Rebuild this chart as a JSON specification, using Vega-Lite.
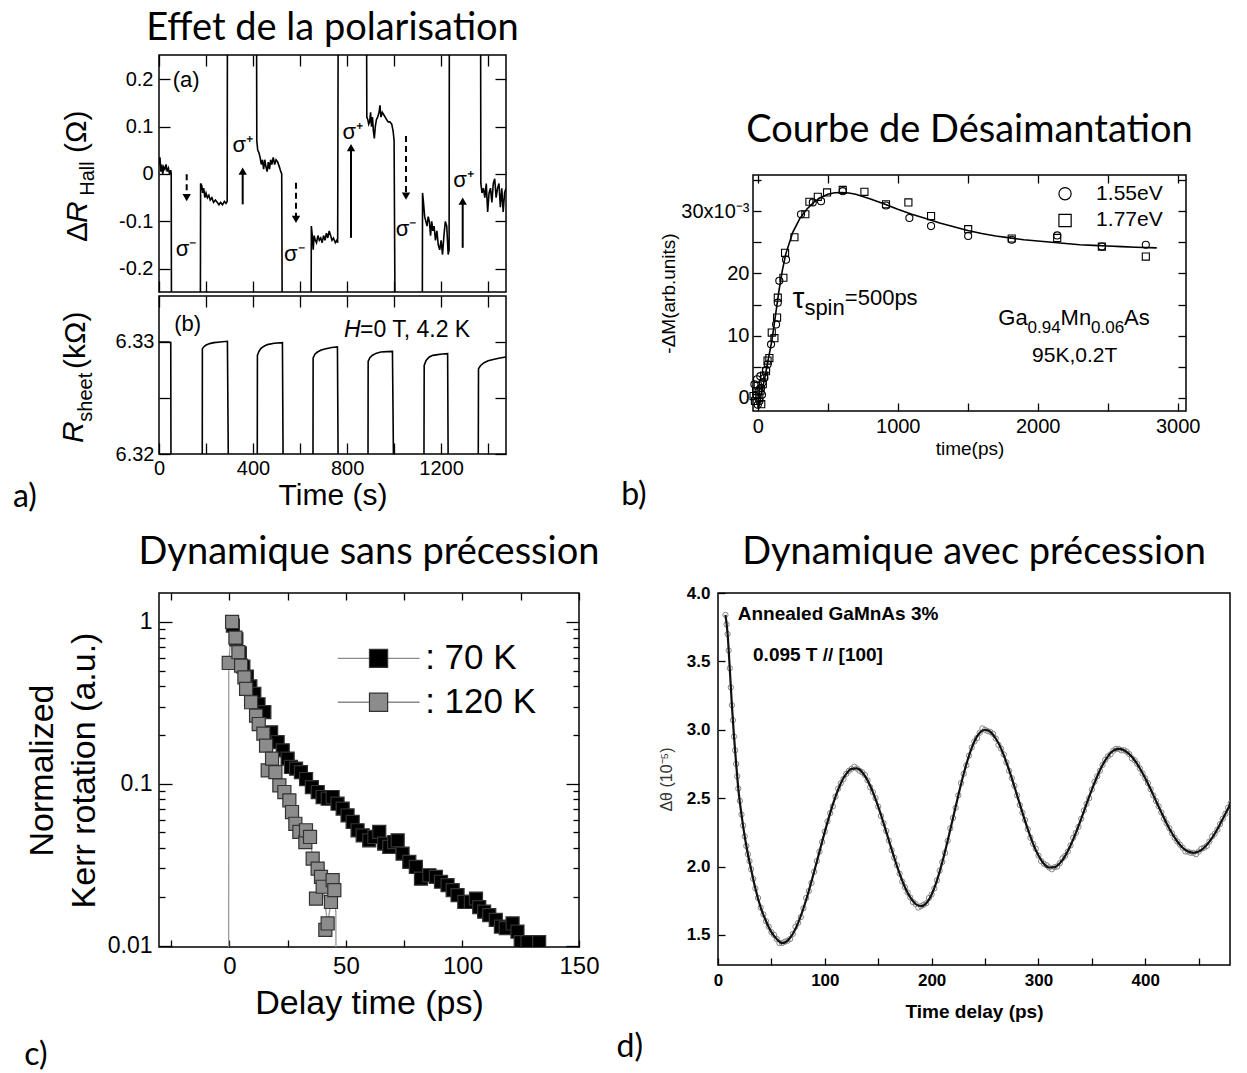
{
"$schema": "https://vega.github.io/schema/vega-lite/v6.json",
"background": "white",
"padding": {"left": 12, "top": 9, "right": 0, "bottom": 0},
"config": {
  "view": {"stroke": "black", "strokeWidth": 1.5},
  "axis": {"domain": false, "grid": false, "tickColor": "black", "tickWidth": 1.3, "labelColor": "black", "titleColor": "black", "labelFont": "Liberation Sans", "titleFont": "Liberation Sans", "titleFontWeight": "normal", "labelFlush": false, "labelOverlap": false},
  "title": {"font": "Lato", "fontSize": 38, "fontWeight": "normal", "color": "black", "frame": "group", "anchor": "middle"},
  "text": {"color": "black"}
},
"datasets": {
  "aHall": [{"t":0,"v":0.02},{"t":4,"v":0.035},{"t":8,"v":0.005},{"t":12,"v":0.02},{"t":16,"v":0.0},{"t":20,"v":0.015},{"t":25,"v":0.01},{"t":30,"v":0.02},{"t":35,"v":0.005},{"t":40,"v":0.012},{"t":45,"v":0.0},{"t":50,"v":0.008},{"t":52,"v":0.0},{"t":53,"v":-0.3},
    {"t":176,"v":-0.3},{"t":177,"v":-0.02},{"t":182,"v":-0.025},{"t":186,"v":-0.04},{"t":190,"v":-0.03},{"t":195,"v":-0.05},{"t":200,"v":-0.04},{"t":206,"v":-0.05},{"t":212,"v":-0.045},{"t":218,"v":-0.055},{"t":225,"v":-0.05},{"t":232,"v":-0.06},{"t":240,"v":-0.055},{"t":248,"v":-0.06},{"t":255,"v":-0.065},{"t":262,"v":-0.06},{"t":270,"v":-0.065},{"t":278,"v":-0.058},{"t":285,"v":-0.062},{"t":290,"v":-0.058},{"t":291,"v":0.3},
    {"t":415,"v":0.3},{"t":416,"v":0.07},{"t":420,"v":0.05},{"t":425,"v":0.045},{"t":430,"v":0.035},{"t":435,"v":0.02},{"t":440,"v":0.03},{"t":445,"v":0.01},{"t":450,"v":0.03},{"t":455,"v":0.015},{"t":460,"v":0.005},{"t":465,"v":0.025},{"t":470,"v":0.01},{"t":475,"v":0.03},{"t":480,"v":0.02},{"t":486,"v":0.035},{"t":492,"v":0.02},{"t":498,"v":0.03},{"t":505,"v":0.025},{"t":512,"v":0.015},{"t":518,"v":0.005},{"t":522,"v":0.0},{"t":524,"v":-0.3},
    {"t":647,"v":-0.3},{"t":648,"v":-0.11},{"t":652,"v":-0.13},{"t":656,"v":-0.16},{"t":660,"v":-0.13},{"t":665,"v":-0.14},{"t":670,"v":-0.145},{"t":676,"v":-0.13},{"t":682,"v":-0.14},{"t":688,"v":-0.135},{"t":694,"v":-0.145},{"t":700,"v":-0.13},{"t":706,"v":-0.14},{"t":712,"v":-0.125},{"t":718,"v":-0.135},{"t":724,"v":-0.12},{"t":730,"v":-0.13},{"t":736,"v":-0.14},{"t":742,"v":-0.135},{"t":750,"v":-0.145},{"t":756,"v":-0.14},{"t":760,"v":-0.145},{"t":762,"v":0.3},
    {"t":883,"v":0.3},{"t":884,"v":0.12},{"t":888,"v":0.115},{"t":892,"v":0.105},{"t":896,"v":0.11},{"t":900,"v":0.13},{"t":904,"v":0.1},{"t":908,"v":0.12},{"t":912,"v":0.09},{"t":916,"v":0.075},{"t":920,"v":0.1},{"t":925,"v":0.115},{"t":930,"v":0.12},{"t":936,"v":0.13},{"t":940,"v":0.145},{"t":944,"v":0.12},{"t":950,"v":0.13},{"t":956,"v":0.125},{"t":962,"v":0.12},{"t":968,"v":0.115},{"t":975,"v":0.11},{"t":982,"v":0.11},{"t":990,"v":0.105},{"t":996,"v":0.09},{"t":1000,"v":0.07},{"t":1004,"v":-0.3},
    {"t":1120,"v":-0.3},{"t":1121,"v":-0.04},{"t":1125,"v":-0.06},{"t":1130,"v":-0.09},{"t":1135,"v":-0.1},{"t":1140,"v":-0.11},{"t":1145,"v":-0.09},{"t":1150,"v":-0.1},{"t":1155,"v":-0.13},{"t":1160,"v":-0.1},{"t":1165,"v":-0.12},{"t":1170,"v":-0.11},{"t":1176,"v":-0.14},{"t":1182,"v":-0.12},{"t":1188,"v":-0.15},{"t":1194,"v":-0.16},{"t":1200,"v":-0.14},{"t":1206,"v":-0.17},{"t":1212,"v":-0.13},{"t":1218,"v":-0.1},{"t":1224,"v":-0.11},{"t":1230,"v":-0.17},{"t":1234,"v":-0.16},{"t":1235,"v":0.3},
    {"t":1368,"v":0.3},{"t":1369,"v":-0.02},{"t":1374,"v":-0.04},{"t":1380,"v":-0.03},{"t":1386,"v":-0.05},{"t":1392,"v":-0.02},{"t":1398,"v":-0.08},{"t":1404,"v":-0.04},{"t":1410,"v":-0.03},{"t":1416,"v":-0.06},{"t":1422,"v":-0.02},{"t":1428,"v":-0.01},{"t":1434,"v":-0.05},{"t":1440,"v":-0.03},{"t":1446,"v":-0.02},{"t":1452,"v":-0.07},{"t":1458,"v":-0.03},{"t":1464,"v":-0.08},{"t":1470,"v":-0.04},{"t":1476,"v":-0.03}],
  "aSheet": [{"t":0,"v":6.33},{"t":20,"v":6.33},{"t":40,"v":6.32998},{"t":50,"v":6.32995},{"t":51,"v":6.319},
    {"t":184,"v":6.319},{"t":184.5,"v":6.3294},{"t":190,"v":6.32955},{"t":198.7,"v":6.3297},{"t":215,"v":6.32985},{"t":234,"v":6.32994},{"t":260,"v":6.33},{"t":291,"v":6.33006},{"t":295,"v":6.319},
    {"t":418,"v":6.319},{"t":418.6,"v":6.32881},{"t":425,"v":6.32915},{"t":432.8,"v":6.3294},{"t":445,"v":6.3296},{"t":461,"v":6.32976},{"t":490,"v":6.32988},{"t":525,"v":6.32994},{"t":528,"v":6.319},
    {"t":655,"v":6.319},{"t":655.6,"v":6.32857},{"t":663,"v":6.3289},{"t":674,"v":6.3291},{"t":690,"v":6.32928},{"t":709.6,"v":6.3294},{"t":735,"v":6.3295},{"t":759,"v":6.32955},{"t":762,"v":6.319},
    {"t":889,"v":6.319},{"t":889.7,"v":6.32827},{"t":897,"v":6.3286},{"t":908,"v":6.32881},{"t":925,"v":6.329},{"t":944,"v":6.3291},{"t":970,"v":6.32914},{"t":993,"v":6.32916},{"t":997.6,"v":6.319},
    {"t":1127,"v":6.319},{"t":1128,"v":6.32791},{"t":1136,"v":6.32835},{"t":1149.5,"v":6.32866},{"t":1165,"v":6.3288},{"t":1185,"v":6.32887},{"t":1205,"v":6.32892},{"t":1227.7,"v":6.32896},{"t":1230,"v":6.319},
    {"t":1358,"v":6.319},{"t":1359,"v":6.32761},{"t":1368,"v":6.3279},{"t":1383,"v":6.32815},{"t":1400,"v":6.32832},{"t":1426,"v":6.32845},{"t":1450,"v":6.32856},{"t":1476,"v":6.32866}],
  "bfit": [{"t":5,"y":-1.8},{"t":25,"y":0.6},{"t":50,"y":3.2},{"t":75,"y":6.2},{"t":100,"y":9.1},{"t":125,"y":13},{"t":150,"y":17.0},{"t":175,"y":20.4},{"t":200,"y":23.1},{"t":250,"y":26.6},{"t":300,"y":28.8},{"t":350,"y":30.3},{"t":400,"y":31.4},{"t":450,"y":32.2},{"t":500,"y":32.7},{"t":550,"y":32.95},{"t":600,"y":33.0},{"t":650,"y":32.9},{"t":700,"y":32.7},{"t":800,"y":32.0},{"t":900,"y":31.2},{"t":1000,"y":30.3},{"t":1100,"y":29.5},{"t":1200,"y":28.8},{"t":1300,"y":28.1},{"t":1400,"y":27.5},{"t":1500,"y":26.9},{"t":1600,"y":26.4},{"t":1700,"y":26.0},{"t":1800,"y":25.7},{"t":1900,"y":25.4},{"t":2000,"y":25.2},{"t":2100,"y":25.0},{"t":2200,"y":24.8},{"t":2300,"y":24.6},{"t":2400,"y":24.5},{"t":2500,"y":24.4},{"t":2600,"y":24.3},{"t":2700,"y":24.2},{"t":2850,"y":24.1}],
  "bpts": [{"t":-24,"y":2.2,"s":"1.55eV"},{"t":-10,"y":0.5,"s":"1.55eV"},{"t":-5,"y":3.0,"s":"1.55eV"},{"t":0,"y":-1.1,"s":"1.55eV"},{"t":5,"y":1.0,"s":"1.55eV"},{"t":12,"y":-0.5,"s":"1.55eV"},{"t":18,"y":3.5,"s":"1.55eV"},{"t":24,"y":1.6,"s":"1.55eV"},{"t":30,"y":0.5,"s":"1.55eV"},{"t":35,"y":2.5,"s":"1.55eV"},{"t":47,"y":3.2,"s":"1.55eV"},{"t":60,"y":4.5,"s":"1.55eV"},{"t":71,"y":5.4,"s":"1.55eV"},{"t":95,"y":8.6,"s":"1.55eV"},{"t":131,"y":11.8,"s":"1.55eV"},{"t":143,"y":15.3,"s":"1.55eV"},{"t":154,"y":18.8,"s":"1.55eV"},{"t":202,"y":22.2,"s":"1.55eV"},{"t":309,"y":29.5,"s":"1.55eV"},{"t":393,"y":31.4,"s":"1.55eV"},{"t":452,"y":31.6,"s":"1.55eV"},{"t":607,"y":33.2,"s":"1.55eV"},{"t":916,"y":30.9,"s":"1.55eV"},{"t":1083,"y":28.9,"s":"1.55eV"},{"t":1238,"y":27.6,"s":"1.55eV"},{"t":1503,"y":26.0,"s":"1.55eV"},{"t":1814,"y":25.4,"s":"1.55eV"},{"t":2139,"y":26.1,"s":"1.55eV"},{"t":2458,"y":24.3,"s":"1.55eV"},{"t":2772,"y":24.6,"s":"1.55eV"},
    {"t":-30,"y":0.3,"s":"1.77eV"},{"t":-20,"y":-0.5,"s":"1.77eV"},{"t":-12,"y":1.1,"s":"1.77eV"},{"t":0,"y":2.0,"s":"1.77eV"},{"t":11,"y":0,"s":"1.77eV"},{"t":20,"y":1.2,"s":"1.77eV"},{"t":25,"y":-1.0,"s":"1.77eV"},{"t":36,"y":2.2,"s":"1.77eV"},{"t":45,"y":3.6,"s":"1.77eV"},{"t":59,"y":4.3,"s":"1.77eV"},{"t":70,"y":6.0,"s":"1.77eV"},{"t":83,"y":6.4,"s":"1.77eV"},{"t":100,"y":10.5,"s":"1.77eV"},{"t":119,"y":9.6,"s":"1.77eV"},{"t":138,"y":12.9,"s":"1.77eV"},{"t":143,"y":16.1,"s":"1.77eV"},{"t":183,"y":19.3,"s":"1.77eV"},{"t":195,"y":23.3,"s":"1.77eV"},{"t":262,"y":25.8,"s":"1.77eV"},{"t":340,"y":29.5,"s":"1.77eV"},{"t":369,"y":31.5,"s":"1.77eV"},{"t":429,"y":32.3,"s":"1.77eV"},{"t":495,"y":33.0,"s":"1.77eV"},{"t":607,"y":33.4,"s":"1.77eV"},{"t":762,"y":33.1,"s":"1.77eV"},{"t":916,"y":31.1,"s":"1.77eV"},{"t":1076,"y":31.4,"s":"1.77eV"},{"t":1238,"y":29.2,"s":"1.77eV"},{"t":1503,"y":27.1,"s":"1.77eV"},{"t":1814,"y":25.6,"s":"1.77eV"},{"t":2139,"y":25.7,"s":"1.77eV"},{"t":2458,"y":24.3,"s":"1.77eV"},{"t":2772,"y":22.7,"s":"1.77eV"}],
  "cpts": [{"t":1.5,"y":0.95,"k":"70 K"},{"t":3,"y":0.78,"k":"70 K"},{"t":4.5,"y":0.64,"k":"70 K"},{"t":6,"y":0.53,"k":"70 K"},{"t":7.5,"y":0.46,"k":"70 K"},{"t":9,"y":0.40,"k":"70 K"},{"t":10.7,"y":0.359,"k":"70 K"},{"t":12.5,"y":0.31,"k":"70 K"},{"t":15.0,"y":0.277,"k":"70 K"},{"t":17.9,"y":0.208,"k":"70 K"},{"t":20.7,"y":0.181,"k":"70 K"},{"t":22.9,"y":0.161,"k":"70 K"},{"t":25.0,"y":0.143,"k":"70 K"},{"t":26.4,"y":0.127,"k":"70 K"},{"t":28.6,"y":0.124,"k":"70 K"},{"t":30.7,"y":0.118,"k":"70 K"},{"t":32.9,"y":0.107,"k":"70 K"},{"t":35.4,"y":0.0954,"k":"70 K"},{"t":37.9,"y":0.0889,"k":"70 K"},{"t":40.0,"y":0.0828,"k":"70 K"},{"t":42.2,"y":0.0808,"k":"70 K"},{"t":44.3,"y":0.0828,"k":"70 K"},{"t":46.4,"y":0.0753,"k":"70 K"},{"t":48.6,"y":0.0702,"k":"70 K"},{"t":50.7,"y":0.0638,"k":"70 K"},{"t":52.9,"y":0.0581,"k":"70 K"},{"t":55.0,"y":0.0516,"k":"70 K"},{"t":57.2,"y":0.048,"k":"70 K"},{"t":60.0,"y":0.0447,"k":"70 K"},{"t":62.2,"y":0.0469,"k":"70 K"},{"t":64.3,"y":0.0504,"k":"70 K"},{"t":66.4,"y":0.0427,"k":"70 K"},{"t":68.6,"y":0.0407,"k":"70 K"},{"t":70.7,"y":0.0436,"k":"70 K"},{"t":72.2,"y":0.0447,"k":"70 K"},{"t":74.3,"y":0.037,"k":"70 K"},{"t":77.2,"y":0.0329,"k":"70 K"},{"t":80.0,"y":0.0306,"k":"70 K"},{"t":82.2,"y":0.0259,"k":"70 K"},{"t":85.8,"y":0.0272,"k":"70 K"},{"t":88.6,"y":0.0266,"k":"70 K"},{"t":90.8,"y":0.0248,"k":"70 K"},{"t":93.6,"y":0.0236,"k":"70 K"},{"t":95.8,"y":0.022,"k":"70 K"},{"t":97.9,"y":0.0205,"k":"70 K"},{"t":100.8,"y":0.0186,"k":"70 K"},{"t":103.6,"y":0.0186,"k":"70 K"},{"t":105.8,"y":0.0195,"k":"70 K"},{"t":107.2,"y":0.0173,"k":"70 K"},{"t":109.3,"y":0.0162,"k":"70 K"},{"t":111.5,"y":0.0154,"k":"70 K"},{"t":114.3,"y":0.0144,"k":"70 K"},{"t":116.5,"y":0.0131,"k":"70 K"},{"t":118.6,"y":0.0128,"k":"70 K"},{"t":121.5,"y":0.0137,"k":"70 K"},{"t":123.6,"y":0.0122,"k":"70 K"},{"t":125.0,"y":0.0105,"k":"70 K"},{"t":127.9,"y":0.0105,"k":"70 K"},{"t":132.9,"y":0.0105,"k":"70 K"},
    {"t":-0.27,"y":0.558,"k":"120 K"},{"t":1.16,"y":1.0,"k":"120 K"},{"t":2.59,"y":0.80,"k":"120 K"},{"t":3.87,"y":0.65,"k":"120 K"},{"t":5.02,"y":0.537,"k":"120 K"},{"t":6.45,"y":0.455,"k":"120 K"},{"t":7.16,"y":0.386,"k":"120 K"},{"t":9.3,"y":0.319,"k":"120 K"},{"t":11.44,"y":0.264,"k":"120 K"},{"t":12.59,"y":0.234,"k":"120 K"},{"t":14.59,"y":0.204,"k":"120 K"},{"t":15.73,"y":0.172,"k":"120 K"},{"t":16.44,"y":0.121,"k":"120 K"},{"t":18.3,"y":0.143,"k":"120 K"},{"t":19.73,"y":0.118,"k":"120 K"},{"t":21.44,"y":0.0977,"k":"120 K"},{"t":23.59,"y":0.0889,"k":"120 K"},{"t":25.73,"y":0.079,"k":"120 K"},{"t":26.87,"y":0.0669,"k":"120 K"},{"t":28.3,"y":0.0566,"k":"120 K"},{"t":30.02,"y":0.0504,"k":"120 K"},{"t":32.59,"y":0.0436,"k":"120 K"},{"t":32.87,"y":0.0516,"k":"120 K"},{"t":34.59,"y":0.0469,"k":"120 K"},{"t":35.73,"y":0.0345,"k":"120 K"},{"t":37.16,"y":0.0195,"k":"120 K"},{"t":37.87,"y":0.0299,"k":"120 K"},{"t":39.3,"y":0.0266,"k":"120 K"},{"t":40.02,"y":0.0231,"k":"120 K"},{"t":41.16,"y":0.0125,"k":"120 K"},{"t":42.16,"y":0.0137,"k":"120 K"},{"t":43.59,"y":0.0186,"k":"120 K"},{"t":44.3,"y":0.0254,"k":"120 K"},{"t":45.02,"y":0.022,"k":"120 K"}],
  "cline": [{"t":-0.35,"y":0.001},{"t":-0.27,"y":0.558},{"t":1.16,"y":1.0},{"t":2.59,"y":0.80},{"t":3.87,"y":0.65},{"t":5.02,"y":0.537},{"t":6.45,"y":0.455},{"t":7.16,"y":0.386},{"t":9.3,"y":0.319},{"t":11.44,"y":0.264},{"t":12.59,"y":0.234},{"t":14.59,"y":0.204},{"t":15.73,"y":0.172},{"t":18.3,"y":0.143},{"t":19.73,"y":0.118},{"t":21.44,"y":0.0977},{"t":23.59,"y":0.0889},{"t":25.73,"y":0.079},{"t":26.87,"y":0.0669},{"t":28.3,"y":0.0566},{"t":30.02,"y":0.0504},{"t":32.87,"y":0.0516},{"t":34.59,"y":0.0469},{"t":35.73,"y":0.0345},{"t":37.87,"y":0.0299},{"t":39.3,"y":0.0266},{"t":40.02,"y":0.0231},{"t":42.16,"y":0.0137},{"t":43.59,"y":0.0186},{"t":45.02,"y":0.022},{"t":45.7,"y":0.0158},{"t":45.8,"y":0.001}],
  "dfit": [{"t":7,"y":3.84},{"t":9,"y":3.70},{"t":11,"y":3.45},{"t":13,"y":3.18},{"t":15,"y":2.95},{"t":17,"y":2.75},{"t":19,"y":2.57},{"t":22,"y":2.38},{"t":25,"y":2.22},{"t":28,"y":2.09},{"t":31,"y":1.98},{"t":35,"y":1.84},{"t":40,"y":1.70},{"t":45,"y":1.60},{"t":50,"y":1.52},{"t":55,"y":1.47},{"t":60,"y":1.44},{"t":65,"y":1.457},{"t":70,"y":1.507},{"t":75,"y":1.588},{"t":80,"y":1.695},{"t":85,"y":1.821},{"t":90,"y":1.962},{"t":95,"y":2.109},{"t":100,"y":2.255},{"t":105,"y":2.391},{"t":110,"y":2.511},{"t":115,"y":2.609},{"t":120,"y":2.677},{"t":125,"y":2.714},{"t":130,"y":2.717},{"t":135,"y":2.689},{"t":140,"y":2.63},{"t":145,"y":2.544},{"t":150,"y":2.438},{"t":155,"y":2.317},{"t":160,"y":2.19},{"t":165,"y":2.064},{"t":170,"y":1.948},{"t":175,"y":1.849},{"t":180,"y":1.774},{"t":185,"y":1.726},{"t":190,"y":1.71},{"t":195,"y":1.732},{"t":200,"y":1.796},{"t":205,"y":1.899},{"t":210,"y":2.033},{"t":215,"y":2.188},{"t":220,"y":2.355},{"t":225,"y":2.521},{"t":230,"y":2.678},{"t":235,"y":2.811},{"t":240,"y":2.914},{"t":245,"y":2.978},{"t":250,"y":3.0},{"t":255,"y":2.984},{"t":260,"y":2.936},{"t":265,"y":2.862},{"t":270,"y":2.762},{"t":275,"y":2.646},{"t":280,"y":2.52},{"t":285,"y":2.394},{"t":290,"y":2.273},{"t":295,"y":2.166},{"t":300,"y":2.08},{"t":305,"y":2.021},{"t":310,"y":1.993},{"t":315,"y":1.995},{"t":320,"y":2.024},{"t":325,"y":2.078},{"t":330,"y":2.154},{"t":335,"y":2.246},{"t":340,"y":2.349},{"t":345,"y":2.458},{"t":350,"y":2.563},{"t":355,"y":2.66},{"t":360,"y":2.743},{"t":365,"y":2.806},{"t":370,"y":2.847},{"t":375,"y":2.86},{"t":380,"y":2.85},{"t":385,"y":2.822},{"t":390,"y":2.777},{"t":395,"y":2.717},{"t":400,"y":2.645},{"t":405,"y":2.565},{"t":410,"y":2.48},{"t":415,"y":2.396},{"t":420,"y":2.315},{"t":425,"y":2.243},{"t":430,"y":2.183},{"t":435,"y":2.137},{"t":440,"y":2.109},{"t":445,"y":2.1},{"t":450,"y":2.109},{"t":455,"y":2.137},{"t":460,"y":2.182},{"t":465,"y":2.24},{"t":470,"y":2.31},{"t":475,"y":2.386},{"t":480,"y":2.464}],
  "dmid": [{"t":8,"y":3.77},{"t":10,"y":3.58},{"t":12,"y":3.31},{"t":14,"y":3.07},{"t":16,"y":2.85},{"t":18,"y":2.66},{"t":20.5,"y":2.48},{"t":23.5,"y":2.30},{"t":26.5,"y":2.15},{"t":29.5,"y":2.04},{"t":33,"y":1.91},{"t":37.5,"y":1.77},{"t":42.5,"y":1.65},{"t":47.5,"y":1.56},{"t":52.5,"y":1.50},{"t":57.5,"y":1.44},{"t":62.5,"y":1.45},{"t":67.5,"y":1.47},{"t":72.5,"y":1.56},{"t":77.5,"y":1.63},{"t":82.5,"y":1.77},{"t":87.5,"y":1.88},{"t":92.5,"y":2.04},{"t":97.5,"y":2.18},{"t":102.5,"y":2.33},{"t":107.5,"y":2.44},{"t":112.5,"y":2.57},{"t":117.5,"y":2.64},{"t":122.5,"y":2.70},{"t":127.5,"y":2.73},{"t":132.5,"y":2.70},{"t":137.5,"y":2.67},{"t":142.5,"y":2.58},{"t":147.5,"y":2.50},{"t":152.5,"y":2.37},{"t":157.5,"y":2.26},{"t":162.5,"y":2.12},{"t":167.5,"y":2.01},{"t":172.5,"y":1.89},{"t":177.5,"y":1.81},{"t":182.5,"y":1.74},{"t":187.5,"y":1.70},{"t":192.5,"y":1.72},{"t":197.5,"y":1.77},{"t":202.5,"y":1.84},{"t":207.5,"y":1.97},{"t":212.5,"y":2.10},{"t":217.5,"y":2.28},{"t":222.5,"y":2.43},{"t":227.5,"y":2.61},{"t":232.5,"y":2.74},{"t":237.5,"y":2.87},{"t":242.5,"y":2.94},{"t":247.5,"y":3.01},{"t":252.5,"y":2.99},{"t":257.5,"y":2.97},{"t":262.5,"y":2.89},{"t":267.5,"y":2.82},{"t":272.5,"y":2.70},{"t":277.5,"y":2.59},{"t":282.5,"y":2.45},{"t":287.5,"y":2.34},{"t":292.5,"y":2.21},{"t":297.5,"y":2.13},{"t":302.5,"y":2.04},{"t":307.5,"y":2.01},{"t":312.5,"y":1.98},{"t":317.5,"y":2.00},{"t":322.5,"y":2.06},{"t":327.5,"y":2.11},{"t":332.5,"y":2.21},{"t":337.5,"y":2.29},{"t":342.5,"y":2.41},{"t":347.5,"y":2.50},{"t":352.5,"y":2.62},{"t":357.5,"y":2.70},{"t":362.5,"y":2.78},{"t":367.5,"y":2.82},{"t":372.5,"y":2.86},{"t":377.5,"y":2.85},{"t":382.5,"y":2.84},{"t":387.5,"y":2.79},{"t":392.5,"y":2.75},{"t":397.5,"y":2.68},{"t":402.5,"y":2.61},{"t":407.5,"y":2.52},{"t":412.5,"y":2.44},{"t":417.5,"y":2.35},{"t":422.5,"y":2.28},{"t":427.5,"y":2.21},{"t":432.5,"y":2.16},{"t":437.5,"y":2.11},{"t":442.5,"y":2.10},{"t":447.5,"y":2.09},{"t":452.5,"y":2.13},{"t":457.5,"y":2.15},{"t":462.5,"y":2.22},{"t":467.5,"y":2.27},{"t":472.5,"y":2.35},{"t":477.5,"y":2.43}]
},
"columns": 1,
"align": "none",
"spacing": 19,
"concat": [
 {"columns": 2, "align": "none", "spacing": 100, "concat": [
  {"spacing": 0, "vconcat": [
   {"width": 347, "height": 237,
    "title": {"text": "Effet de la polarisation", "offset": 6},
    "resolve": {"axis": {"x": "independent", "y": "independent"}},
    "layer": [
     {"data": {"name": "aHall"}, "mark": {"type": "line", "color": "black", "strokeWidth": 1.6, "clip": true},
      "encoding": {
       "x": {"field": "t", "type": "quantitative", "scale": {"domain": [0, 1476], "nice": false, "zero": false}, "axis": {"orient": "bottom", "values": [0,200,400,600,800,1000,1200,1400], "labels": false, "tickSize": -11, "title": null}},
       "y": {"field": "v", "type": "quantitative", "scale": {"domain": [-0.249, 0.251], "nice": false, "zero": false}, "axis": {"orient": "left", "values": [-0.2,-0.1,0,0.1,0.2], "tickSize": -11, "labelPadding": 17, "labelFontSize": 20, "labelExpr": "datum.value < 0 ? '-' + format(-datum.value, '.1~f') : format(datum.value, '.1~f')", "title": null}}}},
     {"data": {"values": [{"t":117.8,"v1":-0.0007,"v2":-0.050},{"t":582.7,"v1":-0.0185,"v2":-0.096},{"t":1050.6,"v1":0.0802,"v2":-0.047}]},
      "mark": {"type": "rule", "color": "black", "strokeWidth": 2, "strokeDash": [6, 4]},
      "encoding": {
       "x": {"field": "t", "type": "quantitative", "axis": {"orient": "top", "values": [0,200,400,600,800,1000,1200,1400], "labels": false, "tickSize": -11, "title": null}},
       "y": {"field": "v1", "type": "quantitative", "axis": {"orient": "right", "values": [-0.2,-0.1,0,0.1,0.2], "labels": false, "tickSize": -11, "title": null}},
       "y2": {"field": "v2"}}},
     {"data": {"values": [{"t":356,"v1":-0.0641,"v2":0.006},{"t":816.7,"v1":-0.1347,"v2":0.055},{"t":1291.8,"v1":-0.1558,"v2":-0.057}]},
      "mark": {"type": "rule", "color": "black", "strokeWidth": 2},
      "encoding": {"x": {"field": "t", "type": "quantitative", "axis": null}, "y": {"field": "v1", "type": "quantitative", "axis": null}, "y2": {"field": "v2"}}},
     {"data": {"values": [{"t":117.8,"v":-0.0501},{"t":582.7,"v":-0.0958},{"t":1050.6,"v":-0.0465}]},
      "mark": {"type": "point", "shape": "triangle-down", "filled": true, "color": "black", "opacity": 1, "size": 70},
      "encoding": {"x": {"field": "t", "type": "quantitative", "axis": null}, "y": {"field": "v", "type": "quantitative", "axis": null}}},
     {"data": {"values": [{"t":356,"v":0.0062},{"t":816.7,"v":0.0554},{"t":1291.8,"v":-0.0572}]},
      "mark": {"type": "point", "shape": "triangle-up", "filled": true, "color": "black", "opacity": 1, "size": 70},
      "encoding": {"x": {"field": "t", "type": "quantitative", "axis": null}, "y": {"field": "v", "type": "quantitative", "axis": null}}},
     {"data": {"values": [{"t":114.8,"v":-0.1575,"s":"σ⁻"},{"t":356,"v":0.0608,"s":"σ⁺"},{"t":575.6,"v":-0.168,"s":"σ⁻"},{"t":824,"v":0.0891,"s":"σ⁺"},{"t":1050.6,"v":-0.1152,"s":"σ⁻"},{"t":1295,"v":-0.0132,"s":"σ⁺"}]},
      "mark": {"type": "text", "font": "Liberation Sans", "fontSize": 22, "align": "center", "baseline": "middle"},
      "encoding": {"x": {"field": "t", "type": "quantitative", "axis": null}, "y": {"field": "v", "type": "quantitative", "axis": null}, "text": {"field": "s"}}},
     {"data": {"values": [{"t":58,"v":0.1985,"s":"(a)"}]},
      "mark": {"type": "text", "font": "Liberation Sans", "fontSize": 22, "align": "left", "baseline": "middle"},
      "encoding": {"x": {"field": "t", "type": "quantitative", "axis": null}, "y": {"field": "v", "type": "quantitative", "axis": null}, "text": {"field": "s"}}},
     {"data": {"values": [{"t":-346,"v":-0.1226,"s":"Δ"},{"t":-350,"v":0.0891,"s":"(Ω)"}]},
      "mark": {"type": "text", "font": "Liberation Sans", "fontSize": 30, "angle": 270, "align": "center", "baseline": "middle"},
      "encoding": {"x": {"field": "t", "type": "quantitative", "axis": null}, "y": {"field": "v", "type": "quantitative", "axis": null}, "text": {"field": "s"}}},
     {"data": {"values": [{"t":-346,"v":-0.0808,"s":"R"}]},
      "mark": {"type": "text", "font": "Liberation Sans", "fontSize": 30, "fontStyle": "italic", "angle": 270, "align": "center", "baseline": "middle"},
      "encoding": {"x": {"field": "t", "type": "quantitative", "axis": null}, "y": {"field": "v", "type": "quantitative", "axis": null}, "text": {"field": "s"}}},
     {"data": {"values": [{"t":-300,"v":-0.0096,"s":"Hall"}]},
      "mark": {"type": "text", "font": "Liberation Sans", "fontSize": 20, "angle": 270, "align": "center", "baseline": "middle"},
      "encoding": {"x": {"field": "t", "type": "quantitative", "axis": null}, "y": {"field": "v", "type": "quantitative", "axis": null}, "text": {"field": "s"}}}
    ]},
   {"width": 347, "height": 158,
    "resolve": {"axis": {"x": "independent", "y": "independent"}},
    "layer": [
     {"data": {"name": "aSheet"}, "mark": {"type": "line", "color": "black", "strokeWidth": 1.6, "clip": true},
      "encoding": {
       "x": {"field": "t", "type": "quantitative", "scale": {"domain": [0, 1476], "nice": false, "zero": false}, "axis": {"orient": "bottom", "values": [0,200,400,600,800,1000,1200,1400], "format": "d", "labelExpr": "datum.value % 400 === 0 ? format(datum.value, 'd') : ''", "labelFontSize": 20, "tickSize": -11, "labelPadding": 15, "title": "Time (s)", "titleFontSize": 30, "titlePadding": 2}},
       "y": {"field": "v", "type": "quantitative", "scale": {"domain": [6.32, 6.3341], "nice": false, "zero": false}, "axis": {"orient": "left", "values": [6.32, 6.325, 6.33], "labelExpr": "abs(datum.value - 6.325) < 0.001 ? '' : format(datum.value, '.2f')", "tickSize": -11, "labelPadding": 16, "labelFontSize": 20, "title": null}}}},
     {"data": {"values": [{"t":65,"v":6.33159,"s":"(b)"}]},
      "mark": {"type": "text", "font": "Liberation Sans", "fontSize": 22, "align": "left", "baseline": "middle"},
      "encoding": {
       "x": {"field": "t", "type": "quantitative", "axis": {"orient": "top", "values": [0,200,400,600,800,1000,1200,1400], "labels": false, "tickSize": -11, "title": null}},
       "y": {"field": "v", "type": "quantitative", "axis": {"orient": "right", "values": [6.32, 6.325, 6.33], "labels": false, "tickSize": -11, "title": null}},
       "text": {"field": "s"}}},
     {"data": {"values": [{"t":787,"v":6.33105,"s":"H"}]},
      "mark": {"type": "text", "font": "Liberation Sans", "fontSize": 23, "fontStyle": "italic", "align": "left", "baseline": "middle"},
      "encoding": {"x": {"field": "t", "type": "quantitative", "axis": null}, "y": {"field": "v", "type": "quantitative", "axis": null}, "text": {"field": "s"}}},
     {"data": {"values": [{"t":855,"v":6.33105,"s":"=0 T, 4.2 K"}]},
      "mark": {"type": "text", "font": "Liberation Sans", "fontSize": 23, "align": "left", "baseline": "middle"},
      "encoding": {"x": {"field": "t", "type": "quantitative", "axis": null}, "y": {"field": "v", "type": "quantitative", "axis": null}, "text": {"field": "s"}}},
     {"data": {"values": [{"t":-362,"v":6.32194,"s":"R"}]},
      "mark": {"type": "text", "font": "Liberation Sans", "fontSize": 30, "fontStyle": "italic", "angle": 270, "align": "center", "baseline": "middle"},
      "encoding": {"x": {"field": "t", "type": "quantitative", "axis": null}, "y": {"field": "v", "type": "quantitative", "axis": null}, "text": {"field": "s"}}},
     {"data": {"values": [{"t":-353,"v":6.33015,"s":"(kΩ)"}]},
      "mark": {"type": "text", "font": "Liberation Sans", "fontSize": 30, "angle": 270, "align": "center", "baseline": "middle"},
      "encoding": {"x": {"field": "t", "type": "quantitative", "axis": null}, "y": {"field": "v", "type": "quantitative", "axis": null}, "text": {"field": "s"}}},
     {"data": {"values": [{"t":-311,"v":6.32507,"s":"sheet"}]},
      "mark": {"type": "text", "font": "Liberation Sans", "fontSize": 20, "angle": 270, "align": "center", "baseline": "middle"},
      "encoding": {"x": {"field": "t", "type": "quantitative", "axis": null}, "y": {"field": "v", "type": "quantitative", "axis": null}, "text": {"field": "s"}}},
     {"data": {"values": [{"t":-621,"v":6.3162,"s":"a)"}]},
      "mark": {"type": "text", "font": "Lato", "fontSize": 32, "align": "left", "baseline": "middle"},
      "encoding": {"x": {"field": "t", "type": "quantitative", "axis": null}, "y": {"field": "v", "type": "quantitative", "axis": null}, "text": {"field": "s"}}}
    ]}
  ]},
  {"spacing": 0, "vconcat": [
   {"width": 1, "height": 56, "data": {"values": [{"s": ""}]}, "mark": {"type": "text", "text": ""}, "view": {"stroke": null}},
   {"width": 433, "height": 236,
    "title": {"text": "Courbe de Désaimantation", "offset": 20},
    "resolve": {"axis": {"x": "independent", "y": "independent"}},
    "layer": [
     {"data": {"name": "bfit"}, "mark": {"type": "line", "color": "black", "strokeWidth": 1.6, "clip": true},
      "encoding": {
       "x": {"field": "t", "type": "quantitative", "scale": {"domain": [-34, 3059], "nice": false, "zero": false}, "axis": {"orient": "bottom", "values": [0,500,1000,1500,2000,2500,3000], "labelExpr": "datum.value % 1000 === 0 ? format(datum.value, 'd') : ''", "labelFontSize": 20, "tickSize": -8, "labelPadding": 13, "title": "time(ps)", "titleFontSize": 19, "titlePadding": 3}},
       "y": {"field": "y", "type": "quantitative", "scale": {"domain": [-2.1, 35.8], "nice": false, "zero": false}, "axis": {"orient": "left", "values": [0,5,10,15,20,25,30,35], "labelExpr": "datum.value === 30 ? '30x10⁻³' : (datum.value % 10 === 0 ? format(datum.value, 'd') : '')", "labelFontSize": 20, "tickSize": -8, "labelPadding": 12, "title": "-ΔM(arb.units)", "titleFontSize": 19, "titlePadding": 2}}}},
     {"data": {"name": "bpts"}, "mark": {"type": "point", "filled": false, "color": "black", "strokeWidth": 1.1, "size": 50, "opacity": 1},
      "encoding": {
       "x": {"field": "t", "type": "quantitative", "axis": {"orient": "top", "values": [0,500,1000,1500,2000,2500,3000], "labels": false, "tickSize": -8, "title": null}},
       "y": {"field": "y", "type": "quantitative", "axis": {"orient": "right", "values": [0,5,10,15,20,25,30,35], "labels": false, "tickSize": -8, "title": null}},
       "shape": {"field": "s", "type": "nominal", "scale": {"domain": ["1.55eV", "1.77eV"], "range": ["circle", "square"]}, "legend": null}}},
     {"data": {"values": [{"t":2195,"y":32.8,"s":"1.55eV"},{"t":2195,"y":28.5,"s":"1.77eV"}]},
      "mark": {"type": "point", "filled": false, "color": "black", "strokeWidth": 1.2, "size": 150, "opacity": 1},
      "encoding": {"x": {"field": "t", "type": "quantitative", "axis": null}, "y": {"field": "y", "type": "quantitative", "axis": null}, "shape": {"field": "s", "type": "nominal", "legend": null}}},
     {"data": {"values": [{"t":2417,"y":32.8,"s":"1.55eV"},{"t":2417,"y":28.5,"s":"1.77eV"}]},
      "mark": {"type": "text", "font": "Liberation Sans", "fontSize": 21, "align": "left", "baseline": "middle"},
      "encoding": {"x": {"field": "t", "type": "quantitative", "axis": null}, "y": {"field": "y", "type": "quantitative", "axis": null}, "text": {"field": "s"}}},
     {"data": {"values": [{"t":291,"y":15.9,"s":"τ"}]},
      "mark": {"type": "text", "font": "Liberation Sans", "fontSize": 30, "align": "center", "baseline": "middle"},
      "encoding": {"x": {"field": "t", "type": "quantitative", "axis": null}, "y": {"field": "y", "type": "quantitative", "axis": null}, "text": {"field": "s"}}},
     {"data": {"values": [{"t":333,"y":14.4,"s":"spin"},{"t":622,"y":16.1,"s":"=500ps"},{"t":1718,"y":12.8,"s":"Ga"},{"t":2163,"y":12.8,"s":"Mn"},{"t":2617,"y":12.8,"s":"As"}]},
      "mark": {"type": "text", "font": "Liberation Sans", "fontSize": 22, "align": "left", "baseline": "middle"},
      "encoding": {"x": {"field": "t", "type": "quantitative", "axis": null}, "y": {"field": "y", "type": "quantitative", "axis": null}, "text": {"field": "s"}}},
     {"data": {"values": [{"t":1927,"y":11.2,"s":"0.94"},{"t":2381,"y":11.2,"s":"0.06"}]},
      "mark": {"type": "text", "font": "Liberation Sans", "fontSize": 17, "align": "left", "baseline": "middle"},
      "encoding": {"x": {"field": "t", "type": "quantitative", "axis": null}, "y": {"field": "y", "type": "quantitative", "axis": null}, "text": {"field": "s"}}},
     {"data": {"values": [{"t":2264,"y":6.7,"s":"95K,0.2T"}]},
      "mark": {"type": "text", "font": "Liberation Sans", "fontSize": 21, "align": "center", "baseline": "middle"},
      "encoding": {"x": {"field": "t", "type": "quantitative", "axis": null}, "y": {"field": "y", "type": "quantitative", "axis": null}, "text": {"field": "s"}}},
     {"data": {"values": [{"t":-976,"y":-15.6,"s":"b)"}]},
      "mark": {"type": "text", "font": "Lato", "fontSize": 32, "align": "left", "baseline": "middle"},
      "encoding": {"x": {"field": "t", "type": "quantitative", "axis": null}, "y": {"field": "y", "type": "quantitative", "axis": null}, "text": {"field": "s"}}}
    ]}
  ]}
 ]},
 {"columns": 2, "align": "none", "spacing": 14, "concat": [
   {"width": 420, "height": 354,
    "title": {"text": "Dynamique sans précession", "offset": 20},
    "resolve": {"axis": {"x": "independent", "y": "independent"}},
    "layer": [
     {"data": {"name": "cline"}, "mark": {"type": "line", "color": "#9a9a9a", "strokeWidth": 1.3, "clip": true},
      "encoding": {
       "x": {"field": "t", "type": "quantitative", "scale": {"domain": [-30.2, 150], "nice": false, "zero": false}, "axis": {"orient": "bottom", "values": [-25,0,25,50,75,100,125,150], "labelExpr": "datum.value % 50 === 0 ? format(datum.value, 'd') : ''", "labelFontSize": 24, "tickSize": -7, "labelPadding": 14, "title": "Delay time (ps)", "titleFontSize": 34, "titlePadding": 8}},
       "y": {"field": "y", "type": "quantitative", "scale": {"type": "log", "domain": [0.0098, 1.51], "nice": false}, "axis": {"orient": "left", "values": [0.01,0.02,0.03,0.04,0.05,0.06,0.07,0.08,0.09,0.1,0.2,0.3,0.4,0.5,0.6,0.7,0.8,0.9,1], "labelExpr": "datum.value === 0.01 ? '0.01' : (datum.value === 0.1 ? '0.1' : (datum.value === 1 ? '1' : ''))", "labelFontSize": 23, "tickSize": {"condition": {"test": "datum.value === 0.01 || datum.value === 0.1 || datum.value === 1", "value": -13}, "value": -6}, "labelPadding": 20, "title": ["Normalized", "Kerr rotation (a.u.)"], "titleFontSize": 34, "titleLineHeight": 42, "titlePadding": 6}}}},
     {"data": {"name": "cpts"}, "mark": {"type": "point", "shape": "square", "filled": true, "stroke": "#333333", "strokeWidth": 1.2, "size": 170, "opacity": 1, "clip": true},
      "encoding": {
       "x": {"field": "t", "type": "quantitative", "axis": {"orient": "top", "values": [-25,0,25,50,75,100,125,150], "labels": false, "tickSize": -7, "title": null}},
       "y": {"field": "y", "type": "quantitative", "axis": {"orient": "right", "values": [0.01,0.02,0.03,0.04,0.05,0.06,0.07,0.08,0.09,0.1,0.2,0.3,0.4,0.5,0.6,0.7,0.8,0.9,1], "labels": false, "tickSize": {"condition": {"test": "datum.value === 0.01 || datum.value === 0.1 || datum.value === 1", "value": -13}, "value": -6}, "title": null}},
       "fill": {"field": "k", "type": "nominal", "scale": {"domain": ["70 K", "120 K"], "range": ["black", "#8c8c8c"]}, "legend": null}}},
     {"data": {"values": [{"t":46.5,"t2":81.6,"y":0.596},{"t":46.5,"t2":81.6,"y":0.319}]},
      "mark": {"type": "rule", "color": "#8a8a8a", "strokeWidth": 1.3},
      "encoding": {"x": {"field": "t", "type": "quantitative", "axis": null}, "x2": {"field": "t2"}, "y": {"field": "y", "type": "quantitative", "axis": null}}},
     {"data": {"values": [{"t":64,"y":0.596,"k":"70 K"},{"t":64,"y":0.319,"k":"120 K"}]},
      "mark": {"type": "point", "shape": "square", "filled": true, "stroke": "#333333", "strokeWidth": 1.2, "size": 330, "opacity": 1},
      "encoding": {"x": {"field": "t", "type": "quantitative", "axis": null}, "y": {"field": "y", "type": "quantitative", "axis": null}, "fill": {"field": "k", "type": "nominal", "legend": null}}},
     {"data": {"values": [{"t":84,"y":0.596,"s":": 70 K"},{"t":84,"y":0.319,"s":": 120 K"}]},
      "mark": {"type": "text", "font": "Liberation Sans", "fontSize": 35, "align": "left", "baseline": "middle"},
      "encoding": {"x": {"field": "t", "type": "quantitative", "axis": null}, "y": {"field": "y", "type": "quantitative", "axis": null}, "text": {"field": "s"}}},
     {"data": {"values": [{"t":-88,"y":0.0021,"s":"c)"}]},
      "mark": {"type": "text", "font": "Lato", "fontSize": 32, "align": "left", "baseline": "middle"},
      "encoding": {"x": {"field": "t", "type": "quantitative", "axis": null}, "y": {"field": "y", "type": "quantitative", "axis": null}, "text": {"field": "s"}}}
    ]},
   {"width": 512, "height": 372,
    "title": {"text": "Dynamique avec précession", "offset": 12},
    "layer": [
     {"data": {"name": "dmid"}, "mark": {"type": "point", "shape": "circle", "filled": false, "color": "#858585", "strokeWidth": 1, "size": 28, "opacity": 1, "clip": true},
      "encoding": {
       "x": {"field": "t", "type": "quantitative", "scale": {"domain": [0, 479.3], "nice": false, "zero": false}, "axis": {"orient": "bottom", "values": [0,50,100,150,200,250,300,350,400,450], "labelExpr": "datum.value % 100 === 0 ? format(datum.value, 'd') : ''", "labelFontSize": 17, "labelFontWeight": "bold", "tickSize": -7, "labelPadding": 14, "title": "Time delay (ps)", "titleFontSize": 19, "titleFontWeight": "bold", "titlePadding": 14}},
       "y": {"field": "y", "type": "quantitative", "scale": {"domain": [1.28, 4.0], "nice": false, "zero": false}, "axis": {"orient": "left", "values": [1.5,1.75,2,2.25,2.5,2.75,3,3.25,3.5,3.75,4], "labelExpr": "(datum.value * 2) % 1 === 0 ? format(datum.value, '.1f') : ''", "labelFontSize": 17, "labelFontWeight": "bold", "tickSize": -7, "labelPadding": 15, "title": "Δθ (10⁻⁵)", "titleFontSize": 16, "titleColor": "#333333", "titlePadding": 12}}}},
     {"data": {"name": "dfit"}, "mark": {"type": "point", "shape": "circle", "filled": false, "color": "#858585", "strokeWidth": 1, "size": 28, "opacity": 1, "clip": true},
      "encoding": {"x": {"field": "t", "type": "quantitative"}, "y": {"field": "y", "type": "quantitative"}}},
     {"data": {"name": "dfit"}, "mark": {"type": "line", "color": "#111111", "strokeWidth": 2.2, "clip": true, "interpolate": "monotone"},
      "encoding": {"x": {"field": "t", "type": "quantitative"}, "y": {"field": "y", "type": "quantitative"}}},
     {"data": {"values": [{"t":18.5,"y":3.849,"s":"Annealed GaMnAs 3%"},{"t":32.8,"y":3.549,"s":"0.095 T // [100]"}]},
      "mark": {"type": "text", "font": "Liberation Sans", "fontSize": 19, "fontWeight": "bold", "align": "left", "baseline": "middle"},
      "encoding": {"x": {"field": "t", "type": "quantitative"}, "y": {"field": "y", "type": "quantitative"}, "text": {"field": "s"}}},
     {"data": {"values": [{"t":-95,"y":0.68,"s":"d)"}]},
      "mark": {"type": "text", "font": "Lato", "fontSize": 32, "align": "left", "baseline": "middle"},
      "encoding": {"x": {"field": "t", "type": "quantitative"}, "y": {"field": "y", "type": "quantitative"}, "text": {"field": "s"}}}
    ]}
 ]}
]
}
